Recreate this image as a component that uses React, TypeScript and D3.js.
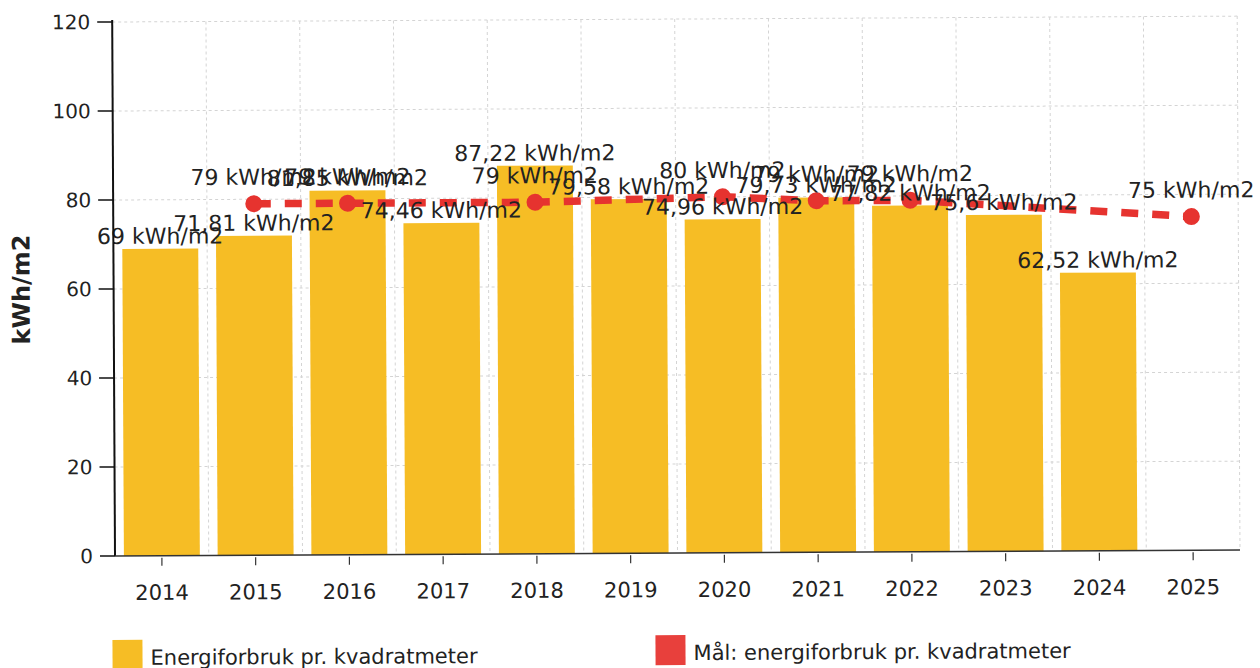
import React from "react";
import * as d3 from "d3";

const years = ["2014","2015","2016","2017","2018","2019","2020","2021","2022","2023","2024","2025"];
const usageYears = ["2014","2015","2016","2017","2018","2019","2020","2021","2022","2023","2024"];
const usageValues = [69, 71.81, 81.85, 74.46, 87.22, 79.58, 74.96, 79.73, 77.82, 75.6, 62.52];
const goalYears = ["2015","2016","2018","2020","2021","2022","2025"];
const goalValues = [79, 79, 79, 80, 79, 79, 75];
const yTicks = [0, 20, 40, 60, 80, 100, 120];
const yTitle = "kWh/m2";
const legendLabels = ["Energiforbruk pr. kvadratmeter", "Mål: energiforbruk pr. kvadratmeter"];

const fmt = (v: number) => String(v).replace(".", ",") + " kWh/m2";

export default function App() {
  const W = 1260, H = 668;
  const left = 115, right = 1240, top = 22, bottom = 556;
  const x = d3.scaleBand<string>().domain(years).range([left, right]).paddingInner(0.19).paddingOuter(0.095);
  const xc = (yr: string) => (x(yr) as number) + x.bandwidth() / 2;
  const y = d3.scaleLinear().domain([0, 120]).range([bottom, top]);
  const step = x.step();
  const bounds = years.map((_, i) => left + step * (i + 1));
  const line = d3.line<number>().x((_, i) => xc(goalYears[i])).y((d) => y(d));
  const yellow = "#F6BD25";
  const red = "#E6332F";
  const textColor = "#222";
  const font = "'DejaVu Sans', Verdana, sans-serif";

  return (
    <svg width={W} height={H} style={{ position: "absolute", left: 0, top: 0, background: "#fff" }} fontFamily={font}>
      <rect x={0} y={0} width={W} height={H} fill="#fff" />
      <g transform={`rotate(-0.3, ${left}, ${bottom})`}>
        {/* grid */}
        {yTicks.filter((t) => t > 0).map((t) => (
          <line key={"h" + t} x1={left} x2={right} y1={y(t)} y2={y(t)} stroke="#d4d4d4" strokeDasharray="3 3" strokeWidth={1} />
        ))}
        {bounds.map((b, i) => (
          <line key={"v" + i} x1={b} x2={b} y1={top} y2={bottom} stroke="#d4d4d4" strokeDasharray="3 3" strokeWidth={1} />
        ))}
        {/* bars */}
        {usageYears.map((yr, i) => (
          <rect key={yr} x={x(yr)} y={y(usageValues[i])} width={x.bandwidth()} height={bottom - y(usageValues[i])} fill={yellow} />
        ))}
        {/* goal line */}
        <path d={line(goalValues) || ""} fill="none" stroke={red} strokeWidth={7.5} strokeDasharray="17 14" />
        {goalYears.map((yr, i) => (
          <circle key={"c" + yr} cx={xc(yr)} cy={y(goalValues[i])} r={8.5} fill={red} />
        ))}
        {/* bar labels */}
        {usageYears.map((yr, i) => (
          <text key={"bl" + yr} x={xc(yr)} y={y(usageValues[i]) - 5} textAnchor="middle" fontSize={22} fill={textColor}>{fmt(usageValues[i])}</text>
        ))}
        {/* goal labels */}
        {goalYears.map((yr, i) => (
          <text key={"gl" + yr} x={xc(yr)} y={y(goalValues[i]) - 19} textAnchor="middle" fontSize={22} fill={textColor}>{fmt(goalValues[i])}</text>
        ))}
        {/* axes */}
        <line x1={left} x2={left} y1={top - 2} y2={bottom} stroke="#111" strokeWidth={2} />
        <line x1={left} x2={right} y1={bottom} y2={bottom} stroke="#333" strokeWidth={1.5} />
        {yTicks.map((t) => (
          <g key={"yt" + t}>
            <line x1={left - 15} x2={left} y1={y(t)} y2={y(t)} stroke="#111" strokeWidth={1.5} />
            <text x={left - 22} y={y(t)} dy="0.35em" textAnchor="end" fontSize={20} fill={textColor}>{t}</text>
          </g>
        ))}
        {years.map((yr) => (
          <g key={"xt" + yr}>
            <line x1={xc(yr)} x2={xc(yr)} y1={bottom + 2} y2={bottom + 10} stroke="#333" strokeWidth={1.2} />
            <text x={xc(yr)} y={bottom + 44} textAnchor="middle" fontSize={21} fill={textColor}>{yr}</text>
          </g>
        ))}
        <text transform={`translate(31, ${(top + bottom) / 2 + 0}) rotate(-90)`} textAnchor="middle" fontSize={24} fontWeight="bold" fill={textColor}>{yTitle}</text>
        {/* legend */}
        <rect x={112} y={640} width={30} height={30} fill={yellow} />
        <text x={150} y={665} fontSize={21} fill={textColor}>{legendLabels[0]}</text>
        <rect x={655} y={638} width={30} height={30} fill="#E8403C" />
        <text x={693} y={663} fontSize={21} fill={textColor}>{legendLabels[1]}</text>
      </g>
    </svg>
  );
}
